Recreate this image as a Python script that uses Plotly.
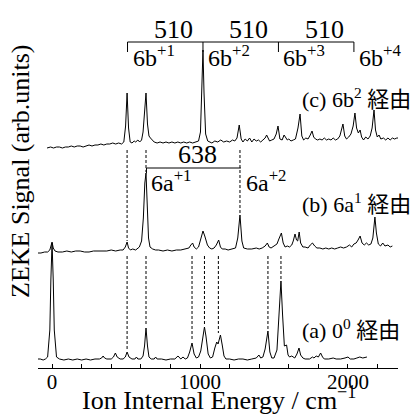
import numpy as np
import plotly.graph_objects as go

# ---------------- data ----------------
# Spectrum (a) 0^0 : energy (cm^-1) and signal (arb. units)
a_x = [-95, -80, -60, -45, -30, -15, -8, 0, 8, 15, 30, 50, 80, 110, 140, 170, 200, 230, 260, 290,
       320, 335, 345, 355, 370, 400, 415, 428, 440, 460, 480, 495, 507, 520, 540, 560, 570, 580, 600,
       615, 625, 635, 645, 655, 670, 690, 700, 710, 740, 770, 800, 830, 851, 860, 870, 885, 900, 915,
       930, 946, 960, 975, 990, 1005, 1020, 1030, 1040, 1055, 1070, 1085, 1100, 1113, 1122, 1138,
       1150, 1162, 1175, 1200, 1230, 1260, 1290, 1320, 1350, 1380, 1398, 1410, 1425, 1440, 1459, 1472,
       1485, 1500, 1520, 1535, 1547, 1558, 1570, 1585, 1595, 1605, 1620, 1640, 1655, 1669, 1680, 1695,
       1710, 1740, 1760, 1770, 1785, 1800, 1815, 1828, 1840, 1870, 1900, 1920, 1950, 1980, 2000, 2015,
       2040, 2060, 2080, 2100, 2128]
a_y = [1, 1, 0, 1, 3, 30, 80, 117, 80, 30, 3, 1, 0, 1, 0, 1, 0, 1, 0, 1,
       1, 2, 4, 2, 1, 1, 3, 7, 3, 1, 1, 3, 8, 3, 1, 1, 3, 1, 1,
       4, 14, 32, 14, 3, 1, 1, 3, 1, 1, 0, 1, 1, 4, 2, 1, 3, 1, 2,
       8, 17, 6, 2, 3, 9, 26, 33, 24, 6, 2, 3, 12, 18, 16, 25,
       15, 4, 1, 1, 0, 1, 1, 0, 1, 2, 5, 2, 3, 11, 29, 8,
       2, 2, 10, 45, 79, 45, 14, 15, 5, 3, 4, 2, 6, 12, 5, 2,
       1, 1, 3, 2, 4, 3, 7, 3, 1, 1, 2, 1, 1, 2, 3, 1,
       1, 2, 3, 2, 3]

# Spectrum (b) 6a^1
b_x = [-95, -75, -50, -30, -15, -5, 0, 8, 20, 40, 70, 100, 130, 160, 190, 220, 250, 280, 310, 340,
       370, 400, 430, 460, 480, 495, 507, 517, 530, 545, 565, 590, 605, 617, 627, 635, 642, 652, 662,
       680, 700, 720, 750, 780, 810, 840, 870, 900, 925, 938, 950, 960, 975, 990, 1005, 1020, 1032,
       1040, 1050, 1065, 1080, 1095, 1110, 1126, 1138, 1150, 1170, 1190, 1210, 1240, 1255, 1270, 1283,
       1295, 1320, 1350, 1380, 1400, 1420, 1440, 1455, 1467, 1480, 1500, 1520, 1533, 1550, 1562, 1575,
       1590, 1605, 1620, 1630, 1642, 1652, 1660, 1670, 1680, 1695, 1710, 1730, 1745, 1760, 1775, 1790,
       1810, 1830, 1850, 1870, 1890, 1910, 1930, 1950, 1970, 1990, 2010, 2025, 2040, 2055, 2068, 2082,
       2095, 2110, 2125, 2140, 2155, 2168, 2182, 2192, 2205, 2220, 2235, 2250, 2270, 2285, 2300]
b_y = [0, 0, 1, 1, 3, 8, 11, 5, 2, 1, 1, 2, 1, 2, 2, 1, 1, 2, 2, 2,
       2, 3, 2, 3, 3, 6, 11, 5, 3, 4, 3, 6, 12, 35, 70, 80, 45, 15, 6,
       4, 3, 3, 2, 3, 2, 3, 3, 4, 5, 8, 10, 6, 4, 6, 13, 22, 17,
       12, 8, 5, 4, 5, 8, 13, 6, 4, 4, 3, 4, 5, 15, 38, 12,
       5, 4, 4, 5, 4, 5, 7, 10, 6, 5, 7, 9, 14, 20, 10, 6,
       7, 6, 8, 12, 19, 13, 12, 21, 10, 6, 6, 5, 8, 10, 7, 5,
       5, 4, 5, 4, 5, 4, 5, 6, 5, 6, 8, 6, 9, 10, 13, 17,
       10, 8, 10, 8, 9, 15, 36, 20, 9, 7, 10, 7, 8, 6, 7]

# Spectrum (c) 6b^2
c_x = [-34, -10, 10, 30, 50, 70, 90, 110, 130, 150, 170, 190, 210, 230, 250, 270, 290, 310, 330, 350,
       370, 390, 410, 430, 450, 470, 485, 497, 507, 517, 528, 540, 555, 565, 580, 592, 605, 615, 625,
       635, 645, 655, 665, 675, 690, 710, 730, 750, 770, 790, 810, 830, 850, 870, 890, 910, 930, 950,
       970, 990, 1003, 1013, 1020, 1027, 1038, 1052, 1065, 1080, 1100, 1120, 1140, 1160, 1180, 1200,
       1220, 1235, 1250, 1265, 1278, 1290, 1305, 1320, 1335, 1350, 1365, 1380, 1395, 1410, 1425, 1440,
       1450, 1460, 1470, 1485, 1500, 1515, 1527, 1540, 1555, 1568, 1578, 1590, 1600, 1615, 1630, 1645,
       1662, 1676, 1688, 1700, 1715, 1730, 1745, 1757, 1768, 1780, 1795, 1810, 1825, 1840, 1855, 1870,
       1885, 1900, 1915, 1930, 1945, 1957, 1966, 1978, 1990, 2005, 2020, 2035, 2047, 2058, 2070, 2082,
       2092, 2105, 2120, 2135, 2150, 2163, 2176, 2186, 2198, 2210, 2222, 2240, 2255, 2270, 2285, 2300,
       2315, 2330, 2338]
c_y = [0, 1, 0, 1, 1, 0, 1, 1, 2, 1, 2, 2, 1, 2, 3, 2, 3, 3, 4, 3,
       4, 4, 5, 4, 5, 4, 6, 22, 55, 20, 6, 5, 7, 6, 8, 6, 8, 16, 32,
       55, 24, 12, 10, 8, 6, 5, 6, 5, 6, 5, 6, 5, 6, 5, 6, 5, 6, 5,
       6, 7, 16, 55, 98, 55, 14, 7, 6, 5, 7, 6, 8, 6, 7, 6,
       8, 7, 10, 23, 9, 6, 9, 7, 10, 6, 9, 7, 8, 6, 8, 10,
       13, 10, 7, 8, 9, 14, 22, 9, 8, 13, 10, 8, 9, 7, 8, 9,
       20, 34, 12, 8, 10, 9, 13, 17, 11, 9, 8, 9, 8, 10, 8, 9,
       8, 10, 8, 9, 12, 20, 24, 12, 9, 11, 14, 22, 35, 20, 15, 18,
       11, 8, 11, 9, 12, 20, 38, 18, 11, 13, 9, 10, 8, 10, 8, 10,
       9, 10, 10]

# Correlation guides (cm^-1)
guides_cb = [507, 635, 1270]
guides_ba = [507, 635, 946, 1030, 1124, 1459, 1547]

# Progressions
prog_6b = [510, 1020, 1530, 2040]
prog_6b_labels = ["6b<sup>+1</sup>", "6b<sup>+2</sup>", "6b<sup>+3</sup>", "6b<sup>+4</sup>"]
prog_6b_spacing = "510"
prog_6a = [638, 1276]
prog_6a_labels = ["6a<sup>+1</sup>", "6a<sup>+2</sup>"]
prog_6a_spacing = "638"

spectrum_labels = ["(a) 0<sup>0</sup> 経由", "(b) 6a<sup>1</sup> 経由", "(c) 6b<sup>2</sup> 経由"]
x_tickvals = [0, 1000, 2000]
x_title = "Ion Internal Energy / cm<sup>−1</sup>"
y_title = "ZEKE Signal (arb.units)"

# ---------------- layout constants ----------------
W, H = 412, 415
ML, MR, MT, MB = 38, 14, 0, 47
PW, PH = W - ML - MR, H - MT - MB
OFF_A, OFF_B, OFF_C = 8, 115, 220
FONT = "Liberation Serif, Noto Sans CJK JP, serif"
XR = [-95, 2338]

fig = go.Figure()
line = dict(color="black", width=1)

for xs, ys, off in [(a_x, a_y, OFF_A), (b_x, b_y, OFF_B), (c_x, c_y, OFF_C)]:
    fig.add_trace(go.Scatter(x=xs, y=np.array(ys) + off, mode="lines", line=line,
                             hoverinfo="skip", showlegend=False))

dash = dict(color="black", width=1, dash="3px,2px")


def local_max(xs, ys, x0, w=25):
    xs = np.array(xs); ys = np.array(ys)
    m = (xs >= x0 - w) & (xs <= x0 + w)
    return ys[m].max()


for g in guides_cb:
    top = OFF_C - 2
    bot = min(OFF_B + local_max(b_x, b_y, g) + 1, 200)
    fig.add_trace(go.Scatter(x=[g, g], y=[top, bot], mode="lines", line=dash,
                             hoverinfo="skip", showlegend=False))
for g in guides_ba:
    top = OFF_B - 3
    bot = OFF_A + local_max(a_x, a_y, g, 20) + 2
    fig.add_trace(go.Scatter(x=[g, g], y=[top, bot], mode="lines", line=dash,
                             hoverinfo="skip", showlegend=False))

# 6b bracket
BR6B, TK = 326, 10
fig.add_trace(go.Scatter(x=[prog_6b[0], prog_6b[-1]], y=[BR6B, BR6B], mode="lines", line=line,
                         hoverinfo="skip", showlegend=False))
for p in prog_6b:
    fig.add_trace(go.Scatter(x=[p, p], y=[BR6B, BR6B - TK], mode="lines", line=line,
                             hoverinfo="skip", showlegend=False))

# 6a bracket
BR6A = 200
fig.add_trace(go.Scatter(x=[prog_6a[0], prog_6a[0], prog_6a[1]], y=[BR6A - 5, BR6A, BR6A],
                         mode="lines", line=line, hoverinfo="skip", showlegend=False))


def A(**kw):
    d = dict(showarrow=False, xanchor="center", yanchor="middle")
    d.update(kw)
    return d


ann = []
for i in range(len(prog_6b) - 1):
    ann.append(A(x=(prog_6b[i] + prog_6b[i + 1]) / 2, y=339, xref="x", yref="y",
                 text=prog_6b_spacing, xshift=8,
                 font=dict(family=FONT, size=26, color="black")))
for p, t in zip(prog_6b, prog_6b_labels):
    ann.append(A(x=p, y=312, xref="x", yref="y", text=t, xanchor="left",
                 xshift=3, font=dict(family=FONT, size=24, color="black")))
ann.append(A(x=sum(prog_6a) / 2, y=214, xref="x", yref="y", text=prog_6a_spacing,
             xshift=4, font=dict(family=FONT, size=26, color="black")))
for p, t in zip(prog_6a, prog_6a_labels):
    ann.append(A(x=p, y=187, xref="x", yref="y", text=t, xanchor="left",
                 xshift=3, font=dict(family=FONT, size=24, color="black")))
for t, yy in zip(spectrum_labels, [39, 165, 270]):
    ann.append(A(x=(300 - ML) / PW, y=yy, xref="paper", yref="y", text=t,
                 xanchor="left", font=dict(family=FONT, size=22, color="black")))
ann.append(A(x=(219 - ML) / PW, y=-(398 - PH) / PH, xref="paper", yref="paper", text=x_title,
             font=dict(family=FONT, size=26, color="black")))
ann.append(A(x=(20 - ML) / PW, y=(PH - 172) / PH, xref="paper", yref="paper", text=y_title,
             textangle=-90, font=dict(family=FONT, size=26, color="black")))

fig.update_layout(
    width=W, height=H, margin=dict(l=ML, r=MR, t=MT, b=MB, autoexpand=False),
    paper_bgcolor="white", plot_bgcolor="white", annotations=ann, showlegend=False,
    xaxis=dict(range=XR, showline=True, linecolor="black", linewidth=1, ticks="inside",
               ticklen=4, tickcolor="black", tickvals=x_tickvals, showgrid=False, zeroline=False,
               ticklabelstandoff=-5,
               tickfont=dict(family=FONT, size=21, color="black"),
               minor=dict(dtick=200, tick0=0, ticks="inside", ticklen=4, tickcolor="black",
                          showgrid=False)),
    yaxis=dict(range=[0, PH], visible=False, showgrid=False, zeroline=False),
)

fig.write_html("out.html", config={"displayModeBar": False},
               post_script="document.body.style.margin='0px';")
